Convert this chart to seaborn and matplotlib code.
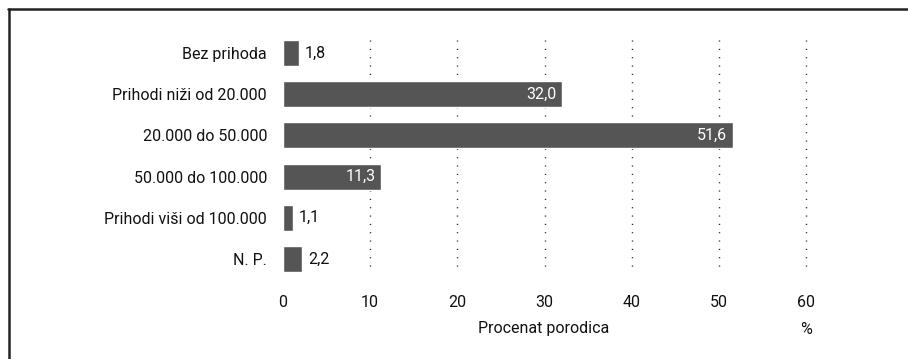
import matplotlib
matplotlib.use("Agg")
import matplotlib.pyplot as plt
import seaborn as sns
import pandas as pd

categories = ["Bez prihoda", "Prihodi niži od 20.000", "20.000 do 50.000",
              "50.000 do 100.000", "Prihodi viši od 100.000", "N. P."]
values = [1.8, 32.0, 51.6, 11.3, 1.1, 2.2]
x_ticks = [0, 10, 20, 30, 40, 50, 60]
x_label = "Procenat porodica"
unit_label = "%"

sns.set_theme(style="white")
plt.rcParams["font.family"] = ["Roboto", "DejaVu Sans"]

bar_color = "#555555"
text_color = "#111111"
fs = 11.5

df = pd.DataFrame({"kategorija": categories, "procenat": values})

fig = plt.figure(figsize=(9.08, 3.59), dpi=100)
W, H = 908, 359
ax = fig.add_axes([283 / W, 1 - 279.6 / H, (806 - 283) / W, (279.6 - 32.4) / H])

sns.barplot(data=df, x="procenat", y="kategorija", orient="h", color=bar_color,
            saturation=1, width=0.63, ax=ax, order=categories)

ax.set_xlim(0, 60)
ax.set_ylim(5.5, -0.5)

# dotted vertical guides at each tick except zero
for t in x_ticks[1:]:
    ax.vlines(t, -0.32, 5.22, colors="#222222", linestyles=(0, (0.8, 5.2)), linewidth=1.0,
              zorder=0, clip_on=False)

for sp in ax.spines.values():
    sp.set_visible(False)

ax.set_xticks(x_ticks)
ax.set_xticklabels([str(t) for t in x_ticks])
ax.tick_params(axis="x", length=0, pad=11, labelsize=fs, labelcolor=text_color)
ax.tick_params(axis="y", length=0, pad=11.5, labelsize=fs, labelcolor=text_color)
ax.set_xlabel("")
ax.set_ylabel("")

# value labels: inside (white) for long bars, outside for short ones
for i, v in enumerate(values):
    lbl = f"{v:.1f}".replace(".", ",")
    if v > 8:
        ax.annotate(lbl, xy=(v, i), xytext=(-4, 0), textcoords="offset points",
                    ha="right", va="center", color="white", fontsize=fs)
    else:
        ax.annotate(lbl, xy=(v, i), xytext=(4.5, 0), textcoords="offset points",
                    ha="left", va="center", color=text_color, fontsize=fs)

fig.text(544 / W, 1 - 329 / H, x_label, ha="center", va="center", fontsize=fs, color=text_color)
fig.text(806 / W, 1 - 329 / H, unit_label, ha="center", va="center", fontsize=fs, color=text_color)

# frame lines along the top and left edge
fig.add_artist(plt.Line2D([8 / W, 1], [1 - 9 / H, 1 - 9 / H], color="#222222", linewidth=1.8,
                          transform=fig.transFigure))
fig.add_artist(plt.Line2D([9 / W, 9 / W], [0, 1 - 9 / H], color="#222222", linewidth=1.8,
                          transform=fig.transFigure))

fig.savefig("out.png", dpi=100, facecolor="white")
